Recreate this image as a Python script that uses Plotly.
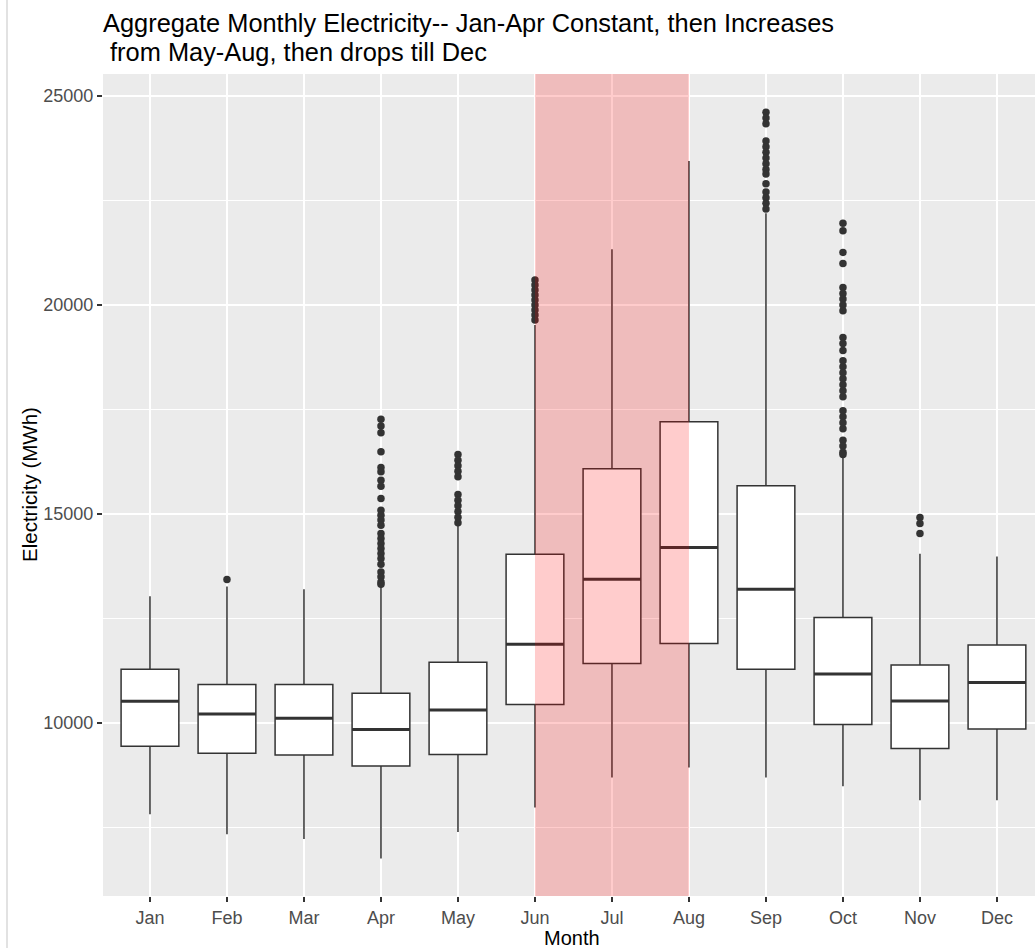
import plotly.graph_objects as go

months = ["Jan", "Feb", "Mar", "Apr", "May", "Jun", "Jul", "Aug", "Sep", "Oct", "Nov", "Dec"]
month_pos = list(range(1, 13))

q1 = [9443, 9275, 9235, 8971, 9244, 10440, 11421, 11899, 11285, 9962, 9388, 9856]
median = [10519, 10215, 10112, 9842, 10311, 11883, 13438, 14196, 13198, 11172, 10526, 10966]
q3 = [11285, 10918, 10918, 10710, 11452, 14036, 16076, 17201, 15670, 12521, 11388, 11866]
lower_whisker = [7816, 7337, 7225, 6756, 7393, 7976, 8694, 8933, 8694, 8486, 8151, 8151]
upper_whisker = [13031, 13263, 13199, 13254, 14713, 19514, 21325, 23437, 22186, 16340, 14043, 13981]

out_feb = [13431]
out_apr = [17265, 17098, 16937, 16483, 16110, 16005, 15806, 15663, 15368, 15088, 14969, 14850,
           14730, 14531, 14411, 14292, 14172, 14052, 13933, 13797, 13612, 13493, 13373, 13318]
out_may = [16421, 16284, 16148, 16021, 15885, 15464, 15328, 15191, 15057, 14921, 14785]
out_jun = [20590, 20471, 20351, 20231, 20112, 19992, 19873, 19753, 19633]
out_sep = [24602, 24466, 24330, 23916, 23781, 23645, 23509, 23373, 23238, 23126, 22894,
           22696, 22560, 22426, 22289]
out_oct = [21947, 21770, 21253, 20990, 20416, 20272, 20136, 19993, 19856, 19220, 19076, 18909,
           18660, 18517, 18373, 18229, 18086, 17942, 17799, 17464, 17320, 17177, 17033,
           16763, 16620, 16476, 16421]
out_nov = [14914, 14770, 14531]

outliers = {2: out_feb, 4: out_apr, 5: out_may, 6: out_jun, 9: out_sep, 10: out_oct, 11: out_nov}

highlight_start, highlight_end = 6, 8

title_line1 = "Aggregate Monthly Electricity-- Jan-Apr Constant, then Increases"
title_line2 = "\u00a0from May-Aug, then drops till Dec"

FONT = "Liberation Sans, Arial, sans-serif"
BOX_W = 0.75
LINE = "#333333"

fig = go.Figure()

fig.add_trace(go.Box(
    x=month_pos, q1=q1, median=median, q3=q3,
    lowerfence=lower_whisker, upperfence=upper_whisker,
    width=BOX_W, fillcolor="white",
    line=dict(color=LINE, width=1.5),
    boxpoints=False, whiskerwidth=0, showlegend=False, hoverinfo="skip",
))

# thicker median lines (ggplot fatten)
mx, my = [], []
for p, m in zip(month_pos, median):
    mx += [p - BOX_W / 2, p + BOX_W / 2, None]
    my += [m, m, None]
fig.add_trace(go.Scatter(x=mx, y=my, mode="lines", line=dict(color=LINE, width=3),
                         showlegend=False, hoverinfo="skip"))

ox, oy = [], []
for p, vals in outliers.items():
    ox += [p] * len(vals)
    oy += vals
fig.add_trace(go.Scatter(x=ox, y=oy, mode="markers",
                         marker=dict(color=LINE, size=7.5, line=dict(width=0)),
                         showlegend=False, hoverinfo="skip"))

fig.add_shape(type="rect", xref="x", yref="paper", x0=highlight_start, x1=highlight_end,
              y0=0, y1=1, fillcolor="rgba(255,0,0,0.2)", line=dict(width=0), layer="above")

# thin border line at the left edge of the image
fig.add_shape(type="line", xref="paper", yref="paper", x0=-96 / 932, x1=-96 / 932,
              y0=-0.07, y1=1.1, line=dict(color="#D9D9D9", width=1.5))

fig.update_layout(
    width=1035, height=948,
    margin=dict(l=103, r=0, t=74, b=52),
    paper_bgcolor="white", plot_bgcolor="#EBEBEB",
    font=dict(family=FONT, color="#4D4D4D"),
    showlegend=False,
    xaxis=dict(
        tickmode="array", tickvals=month_pos, ticktext=months,
        range=[0.39, 12.494], showgrid=True, gridcolor="white", gridwidth=2,
        zeroline=False, ticks="outside", ticklen=5, tickwidth=1.5, tickcolor=LINE,
        tickfont=dict(size=18, color="#4D4D4D"), showline=False,
    ),
    yaxis=dict(
        range=[5861, 25519], tickmode="array", tickvals=[10000, 15000, 20000, 25000],
        ticktext=["10000", "15000", "20000", "25000"],
        showgrid=True, gridcolor="white", gridwidth=2, zeroline=False,
        ticks="outside", ticklen=5, tickwidth=1.5, tickcolor=LINE,
        tickfont=dict(size=18, color="#4D4D4D"),
        minor=dict(tickvals=[7500, 12500, 17500, 22500], showgrid=True,
                   gridcolor="white", gridwidth=1, ticks=""),
    ),
    annotations=[
        dict(text=title_line1, xref="paper", yref="paper", x=0, y=1, yshift=51,
             xanchor="left", yanchor="middle", showarrow=False, xshift=-2,
             font=dict(size=25.4, color="black", family=FONT)),
        dict(text=title_line2, xref="paper", yref="paper", x=0, y=1, yshift=22,
             xanchor="left", yanchor="middle", showarrow=False, xshift=-2,
             font=dict(size=25.4, color="black", family=FONT)),
        dict(text="Month", xref="paper", yref="paper", x=0.503, y=0, yshift=-42,
             xanchor="center", yanchor="middle", showarrow=False,
             font=dict(size=20, color="black", family=FONT)),
        dict(text="Electricity (MWh)", xref="paper", yref="paper", x=0, y=0.5, xshift=-74,
             xanchor="center", yanchor="middle", textangle=-90, showarrow=False,
             font=dict(size=20.5, color="black", family=FONT)),
    ],
)

fig.write_html("out.html")
